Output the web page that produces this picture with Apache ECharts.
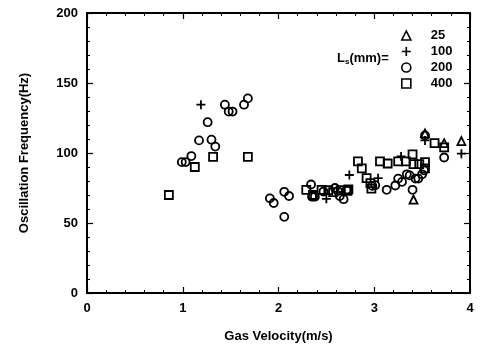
<!DOCTYPE html>
<html><head><meta charset="utf-8">
<script src="https://cdn.jsdelivr.net/npm/echarts@6/dist/echarts.min.js"></script>
<style>html,body{margin:0;padding:0;background:#fff}#c{width:480px;height:348px}</style>
</head><body><div id="c"></div>
<script>
const xTicks = [0, 1, 2, 3, 4];
const yTicks = [0, 50, 100, 150, 200];
const seriesNames = ['25', '100', '200', '400'];
// Ls = 25 mm (triangles)
const ls25 = [[3.41, 66.7], [3.53, 114], [3.73, 107], [3.91, 108.5]];
// Ls = 100 mm (plus)
const ls100 = [[1.19, 134.5], [2.50, 67.3], [2.74, 84.3], [3.04, 82], [3.28, 97.5], [3.53, 109], [3.91, 99.5]];
// Ls = 200 mm (circles)
const ls200 = [[0.99, 93.5], [1.03, 93.5], [1.09, 97.8], [1.17, 109], [1.26, 122], [1.30, 109.5], [1.34, 104.6],
  [1.44, 134.5], [1.48, 129.6], [1.52, 129.6], [1.64, 134.5], [1.68, 139],
  [1.91, 67.6], [1.95, 64.3], [2.06, 72.3], [2.06, 54.4], [2.11, 69.3],
  [2.34, 77.5], [2.35, 68.8], [2.38, 68.8], [2.47, 72.5], [2.59, 75], [2.62, 72.8], [2.64, 69.3], [2.68, 67], [2.71, 73.5],
  [2.98, 76.5], [3.01, 77], [3.13, 73.7], [3.22, 76.8], [3.25, 81.7], [3.29, 79.4], [3.34, 84.8], [3.37, 84],
  [3.40, 73.7], [3.43, 81.7], [3.46, 81.7], [3.50, 84.8], [3.52, 87.6], [3.53, 112.5], [3.73, 96.8]];
// Ls = 400 mm (squares)
const ls400 = [[0.855, 70], [1.126, 90], [1.317, 97.3], [1.68, 97.3],
  [2.29, 73.7], [2.36, 70], [2.45, 73.7], [2.52, 73.5], [2.57, 72], [2.65, 73.5], [2.72, 73], [2.73, 74],
  [2.83, 94], [2.87, 89], [2.92, 82], [2.96, 78.5], [2.97, 74.5],
  [3.06, 94], [3.14, 92.5], [3.25, 94], [3.33, 94], [3.40, 99], [3.41, 92], [3.47, 92], [3.53, 93.5], [3.53, 89],
  [3.63, 107], [3.73, 104]];

const font = 'Liberation Sans, Arial, sans-serif';
const plusPath = 'path://M5,0L5,10M0,5L10,5';
const mk = (name, data, symbol, size) => ({
  name, type: 'scatter', data, symbol, symbolSize: size,
  itemStyle: { color: 'rgba(0,0,0,0)', borderColor: '#000', borderWidth: 1.8, opacity: 1 },
  emphasis: { disabled: true }
});
const axisCommon = {
  axisLine: { show: true, onZero: false, lineStyle: { color: '#000', width: 2 } },
  axisTick: { show: true, inside: true, length: 6, lineStyle: { color: '#000', width: 1.2 } },
  minorTick: { show: true, splitNumber: 5, length: 3, lineStyle: { color: '#000', width: 1 } },
  splitLine: { show: false }
};
const chart = echarts.init(document.getElementById('c'), null, { renderer: 'canvas' });
chart.setOption({
  animation: false,
  backgroundColor: '#fff',
  grid: { left: 87, right: 10, top: 13, bottom: 52 },
  xAxis: [
    Object.assign({ type: 'value', min: xTicks[0], max: xTicks[xTicks.length - 1], interval: 1, position: 'bottom',
      name: 'Gas Velocity(m/s)', nameLocation: 'middle', nameGap: 37,
      nameTextStyle: { fontFamily: font, fontWeight: 'bold', fontSize: 13, color: '#000' },
      axisLabel: { fontFamily: font, fontWeight: 'bold', fontSize: 13, color: '#000', margin: 9 } }, axisCommon),
    Object.assign({ type: 'value', min: xTicks[0], max: xTicks[xTicks.length - 1], interval: 1, position: 'top',
      axisLabel: { show: false } }, axisCommon)
  ],
  yAxis: [
    Object.assign({ type: 'value', min: yTicks[0], max: yTicks[yTicks.length - 1], interval: 50, position: 'left',
      name: 'Oscillation Frequency(Hz)', nameLocation: 'middle', nameGap: 56,
      nameTextStyle: { fontFamily: font, fontWeight: 'bold', fontSize: 13, color: '#000' },
      axisLabel: { fontFamily: font, fontWeight: 'bold', fontSize: 13, color: '#000', margin: 9 } }, axisCommon),
    Object.assign({ type: 'value', min: yTicks[0], max: yTicks[yTicks.length - 1], interval: 50, position: 'right',
      axisLabel: { show: false } }, axisCommon)
  ],
  legend: {
    orient: 'vertical', left: 396, top: 24, itemGap: 3, itemWidth: 9, itemHeight: 9,
    data: seriesNames,
    itemStyle: { borderWidth: 1.6 },
    textStyle: { fontFamily: font, fontWeight: 'bold', fontSize: 13, color: '#000', padding: [0, 0, 0, 15] },
    selectedMode: false
  },
  graphic: [{
    type: 'text', left: 337, top: 52,
    style: {
      text: '{a|L}{s|s}{a|(mm)=}',
      rich: {
        a: { fontFamily: font, fontWeight: 'bold', fontSize: 13, fill: '#000' },
        s: { fontFamily: font, fontWeight: 'bold', fontSize: 8, fill: '#000', verticalAlign: 'bottom', padding: [7, 0, 0, 0] }
      }
    }
  }],
  series: [
    mk(seriesNames[0], ls25, 'triangle', 8),
    mk(seriesNames[1], ls100, plusPath, 9),
    mk(seriesNames[2], ls200, 'circle', 8),
    mk(seriesNames[3], ls400, 'rect', 8)
  ]
});
</script></body></html>
